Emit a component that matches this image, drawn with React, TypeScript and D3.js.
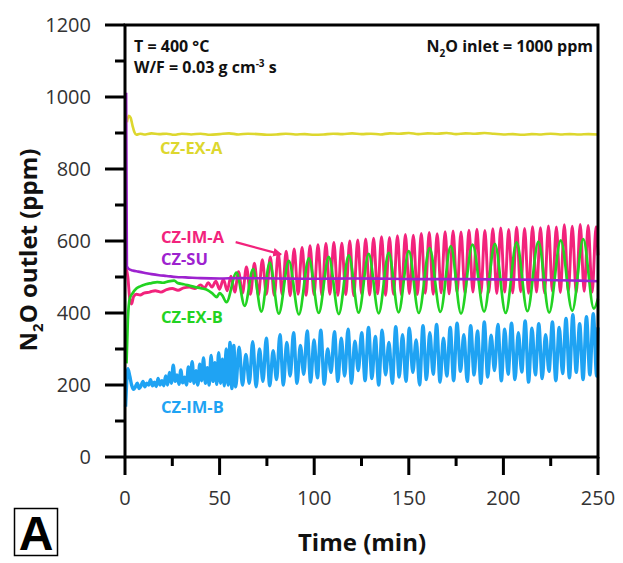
import React from "react";
import * as d3 from "d3";

// ---------- data (time in min, N2O outlet in ppm) ----------
const xTicks = [0, 50, 100, 150, 200, 250];
const yTicks = [0, 200, 400, 600, 800, 1000, 1200];

const czExA: [number, number][] = [
  [1, 930], [2, 948], [3, 942], [4, 920], [5, 902], [6, 895], [8, 898], [10, 896], [14, 899], [18, 897],
  [22, 898], [26, 895], [30, 898], [35, 896], [40, 898], [45, 895], [50, 897], [55, 899], [60, 896], [65, 898],
  [70, 897], [75, 895], [80, 896], [85, 898], [90, 896], [95, 897], [100, 895], [105, 896], [110, 898], [115, 897],
  [120, 899], [125, 897], [130, 898], [135, 896], [140, 899], [145, 898], [150, 900], [155, 897], [160, 899], [165, 898],
  [170, 900], [175, 897], [180, 899], [185, 898], [190, 900], [195, 898], [200, 896], [205, 897], [210, 895], [215, 897],
  [220, 896], [225, 898], [230, 896], [235, 897], [240, 896], [245, 897], [250, 896],
];

const czSu: [number, number][] = [
  [0.6, 1012], [1.0, 530], [2, 522], [4, 518], [7, 515], [10, 512], [14, 508], [18, 505], [22, 503], [27, 500],
  [32, 499], [40, 497], [50, 496], [60, 497], [80, 496], [100, 495], [120, 496], [140, 495], [160, 494], [180, 494],
  [200, 493], [220, 492], [240, 490], [250, 488],
];

const czImA: [number, number][] = [
  [0.5, 525], [1.5, 500], [2.5, 440], [3.5, 425], [4.5, 445], [6, 452], [8, 450], [10, 455], [13, 458], [16, 462],
  [19, 458], [22, 465], [25, 468], [28, 463], [31, 470], [34, 472], [37, 468], [40, 478], [42, 470], [44, 484],
  [46, 472], [48, 488], [50, 466], [52, 494], [54, 462], [56, 502], [58, 458],
  [60.0, 515], [62.1, 455], [64.2, 528], [66.3, 452], [68.4, 538], [70.5, 450], [72.6, 548], [74.7, 452],
  [76.8, 556], [78.9, 449], [81.0, 566], [83.1, 451], [85.2, 572], [87.3, 448], [89.4, 578], [91.5, 452],
  [93.6, 582], [95.7, 449], [97.8, 587], [99.9, 451], [102.0, 590], [104.1, 448], [106.2, 593], [108.3, 452],
  [110.4, 596], [112.5, 449], [114.6, 594], [116.7, 451], [118.8, 600], [120.9, 448], [123.0, 603], [125.1, 452],
  [127.2, 606], [129.3, 450], [131.4, 608], [133.5, 453], [135.6, 612], [137.7, 449], [139.8, 610], [141.9, 452],
  [144.0, 615], [146.1, 450], [148.2, 618], [150.3, 454], [152.4, 616], [154.5, 451], [156.6, 621], [158.7, 455],
  [160.8, 624], [162.9, 452], [165.0, 620], [167.1, 456], [169.2, 626], [171.3, 453], [173.4, 628], [175.5, 457],
  [177.6, 625], [179.7, 454], [181.8, 630], [183.9, 458], [186.0, 633], [188.1, 455], [190.2, 629], [192.3, 457],
  [194.4, 634], [196.5, 454], [198.6, 636], [200.7, 458], [202.8, 632], [204.9, 456], [207.0, 638], [209.1, 459],
  [211.2, 635], [213.3, 455], [215.4, 640], [217.5, 458], [219.6, 637], [221.7, 456], [223.8, 642], [225.9, 460],
  [228.0, 639], [230.1, 457], [232.2, 645], [234.3, 459], [236.4, 641], [238.5, 456], [240.6, 646], [242.7, 460],
  [244.8, 643], [246.9, 458], [249.0, 640], [250, 560],
];

const czExB: [number, number][] = [
  [0.8, 260], [1.5, 380], [2.5, 440], [4, 455], [6, 468], [8, 474], [11, 480], [14, 483], [17, 486], [20, 484],
  [23, 488], [26, 490], [28, 483], [31, 480], [34, 476], [37, 472], [40, 469], [43, 465], [46, 455], [48.5, 444],
  [50, 455], [51.5, 448], [53.6, 430], [58.9, 512], [63.3, 420], [67.7, 522], [72.1, 404], [76.5, 540],
  [81.3, 398], [86.6, 545], [91.9, 396], [97.2, 552], [102.4, 400], [107.7, 556], [113.0, 397], [118.3, 560],
  [123.5, 401], [128.8, 564], [134.1, 399], [139.4, 567], [144.6, 402], [150.0, 572], [155.3, 400], [161.0, 580],
  [166.7, 403], [172.2, 586], [177.6, 398], [183.7, 590], [189.8, 404], [195.5, 592], [201.2, 400], [207.0, 596],
  [212.7, 405], [218.5, 598], [224.2, 401], [230.3, 602], [236.4, 406], [242.2, 605], [247.8, 412], [250, 440],
];

const czImB: [number, number][] = [
  [0.3, 140], [0.8, 200], [1.5, 245], [2.5, 225], [3.5, 200], [4.5, 188], [5.5, 195], [6.5, 205], [7.5, 190], [8.5, 198],
  [9.5, 210], [10.5, 195], [11.5, 205], [12.5, 200], [13.5, 215], [14.5, 198], [15.5, 208], [16.5, 196], [17.5, 218], [18.5, 200],
  [19.5, 212], [20.5, 198], [21.5, 225], [22.5, 200], [23.5, 235], [24.5, 205], [25.5, 255], [26.5, 210], [27.5, 228], [28.5, 202],
  [29.5, 242], [30.5, 206], [31.5, 222], [32.5, 200], [33.5, 250], [34.5, 210], [35.5, 265], [36.5, 205], [37.5, 240], [38.5, 200],
  [39.5, 258], [40.5, 212], [41.5, 275], [42.5, 205], [43.5, 248], [44.5, 200], [45.5, 282], [46.5, 210], [47.5, 262], [48.5, 202],
  [49.5, 290], [50.5, 205], [51.5, 272], [52.5, 198], [53.5, 300], [54.5, 200], [55.5, 318], [56.5, 190], [57.5, 310], [58.5, 195],
  [60.3, 305], [62.1, 200], [63.9, 285], [65.7, 205], [67.5, 320], [69.3, 195], [71.1, 300], [72.9, 210], [74.7, 330], [76.5, 198],
  [78.3, 295], [80.1, 215], [81.9, 340], [83.7, 200], [85.5, 318], [87.3, 225], [89.1, 345], [90.9, 205], [92.7, 310], [94.5, 230],
  [96.3, 350], [98.1, 208], [99.9, 325], [101.7, 220], [103.5, 352], [105.3, 202], [107.1, 300], [108.9, 235], [110.7, 348], [112.5, 210],
  [114.3, 330], [116.1, 225], [117.9, 355], [119.7, 205], [121.5, 322], [123.3, 240], [125.1, 345], [126.9, 212], [128.7, 360], [130.5, 218],
  [132.3, 335], [134.1, 200], [135.9, 352], [137.7, 228], [139.5, 318], [141.3, 205], [143.1, 362], [144.9, 222], [146.7, 340], [148.5, 210],
  [150.3, 358], [152.1, 235], [153.9, 325], [155.7, 200], [157.5, 365], [159.3, 215], [161.1, 345], [162.9, 230], [164.7, 368], [166.5, 208],
  [168.3, 330], [170.1, 225], [171.9, 360], [173.7, 212], [175.5, 372], [177.3, 238], [179.1, 340], [180.9, 210], [182.7, 365], [184.5, 228],
  [186.3, 350], [188.1, 205], [189.9, 375], [191.7, 222], [193.5, 338], [195.3, 240], [197.1, 368], [198.9, 212], [200.7, 355], [202.5, 230],
  [204.3, 372], [206.1, 215], [207.9, 345], [209.7, 236], [211.5, 378], [213.3, 208], [215.1, 358], [216.9, 228], [218.7, 370], [220.5, 218],
  [222.3, 340], [224.1, 238], [225.9, 375], [227.7, 212], [229.5, 360], [231.3, 232], [233.1, 385], [234.9, 220], [236.7, 395], [238.5, 235],
  [240.3, 370], [242.1, 215], [243.9, 390], [245.7, 228], [247.5, 398], [249.3, 225], [250, 360],
];

const seriesNames = ["CZ-IM-A", "CZ-EX-B", "CZ-IM-B", "CZ-EX-A", "CZ-SU"];
const seriesData = [czImA, czExB, czImB, czExA, czSu];
const seriesColors = ["#f2237c", "#22d322", "#1fa3f3", "#ddd72e", "#9d22cf"];
const seriesWidths = [2.9, 2.7, 3.4, 2.6, 2.6];

// label anchors (data coordinates)
const labelAnchors: Record<string, [number, number]> = {
  "CZ-EX-A": [18.5, 842],
  "CZ-IM-A": [19, 594],
  "CZ-SU": [19, 533],
  "CZ-EX-B": [19, 372],
  "CZ-IM-B": [19, 122],
};

const W = 623;
const H = 563;
const M = { left: 125, right: 598, top: 25, bottom: 457 };

export default function App() {
  const x = d3.scaleLinear().domain([0, 250]).range([M.left, M.right]);
  const y = d3.scaleLinear().domain([0, 1200]).range([M.bottom, M.top]);
  const line = d3
    .line<[number, number]>()
    .x((d) => x(d[0]))
    .y((d) => y(d[1]))
    .curve(d3.curveMonotoneX);

  const font = "'Open Sans', 'DejaVu Sans', sans-serif";
  const xMinor = d3.range(25, 250, 50);
  const yMinor = d3.range(100, 1200, 200);

  const arrowFrom: [number, number] = [58.5, 597];
  const arrowTo: [number, number] = [82.5, 563];

  return (
    <svg
      width={W}
      height={H}
      style={{ position: "absolute", left: 0, top: 0, background: "#fff" }}
      fontFamily={font}
    >
      <defs>
        <marker id="ah" viewBox="0 0 10 10" refX="9" refY="5" markerWidth="4" markerHeight="4" orient="auto">
          <path d="M0,0 L10,5 L0,10 z" fill={seriesColors[0]} />
        </marker>
      </defs>

      {/* series */}
      {seriesData.map((d, i) => (
        <path
          key={seriesNames[i]}
          d={line(d) || ""}
          fill="none"
          stroke={seriesColors[i]}
          strokeWidth={seriesWidths[i]}
          strokeLinejoin="round"
        />
      ))}

      {/* frame */}
      <rect x={M.left} y={M.top} width={M.right - M.left} height={M.bottom - M.top} fill="none" stroke="#000" strokeWidth={3} />

      {/* y ticks */}
      {yTicks.map((t) => (
        <g key={"y" + t}>
          <line x1={M.left - 20} x2={M.left} y1={y(t)} y2={y(t)} stroke="#000" strokeWidth={3} />
          <text x={M.left - 34} y={y(t)} dy="0.36em" textAnchor="end" fontSize={20} fill="#333">
            {t}
          </text>
        </g>
      ))}
      {yMinor.map((t) => (
        <line key={"ym" + t} x1={M.left - 10} x2={M.left} y1={y(t)} y2={y(t)} stroke="#000" strokeWidth={3} />
      ))}

      {/* x ticks */}
      {xTicks.map((t) => (
        <g key={"x" + t}>
          <line x1={x(t)} x2={x(t)} y1={M.bottom} y2={M.bottom + 18} stroke="#000" strokeWidth={3} />
          <text x={x(t)} y={M.bottom + 48} textAnchor="middle" fontSize={20} fill="#333">
            {t}
          </text>
        </g>
      ))}
      {xMinor.map((t) => (
        <line key={"xm" + t} x1={x(t)} x2={x(t)} y1={M.bottom} y2={M.bottom + 9} stroke="#000" strokeWidth={3} />
      ))}

      {/* axis titles */}
      <text x={362} y={551} textAnchor="middle" fontSize={24} fontWeight="bold" fill="#111">
        Time (min)
      </text>
      <text transform="translate(37,250) rotate(-90)" textAnchor="middle" fontSize={24} fontWeight="bold" fill="#111">
        N<tspan fontSize={15} dy={6}>2</tspan>
        <tspan dy={-6}>O outlet (ppm)</tspan>
      </text>

      {/* annotations */}
      <text x={134} y={52} fontSize={16} fontWeight="bold" fill="#111">
        T = 400 °C
      </text>
      <text x={134} y={73} fontSize={16} fontWeight="bold" fill="#111">
        W/F = 0.03 g cm<tspan fontSize={10} dy={-6}>-3</tspan>
        <tspan dy={6}> s</tspan>
      </text>
      <text x={593} y={52} textAnchor="end" fontSize={16} fontWeight="bold" fill="#111">
        N<tspan fontSize={10} dy={5}>2</tspan>
        <tspan dy={-5}>O inlet = 1000 ppm</tspan>
      </text>

      {/* series labels */}
      {seriesNames.map((n, i) => (
        <text
          key={"l" + n}
          x={x(labelAnchors[n][0])}
          y={y(labelAnchors[n][1])}
          fontSize={16.5}
          fontWeight="bold"
          fill={seriesColors[i]}
        >
          {n}
        </text>
      ))}
      <line
        x1={x(arrowFrom[0])}
        y1={y(arrowFrom[1])}
        x2={x(arrowTo[0])}
        y2={y(arrowTo[1])}
        stroke={seriesColors[0]}
        strokeWidth={2.2}
        markerEnd="url(#ah)"
      />

      {/* panel letter */}
      <rect x={14.5} y={508.5} width={43} height={47} fill="#fff" stroke="#000" strokeWidth={1.5} />
      <text x={36} y={550} textAnchor="middle" fontSize={48} fontWeight="bold" fontFamily="'Liberation Sans', Arial, sans-serif" fill="#000">
        A
      </text>
    </svg>
  );
}
